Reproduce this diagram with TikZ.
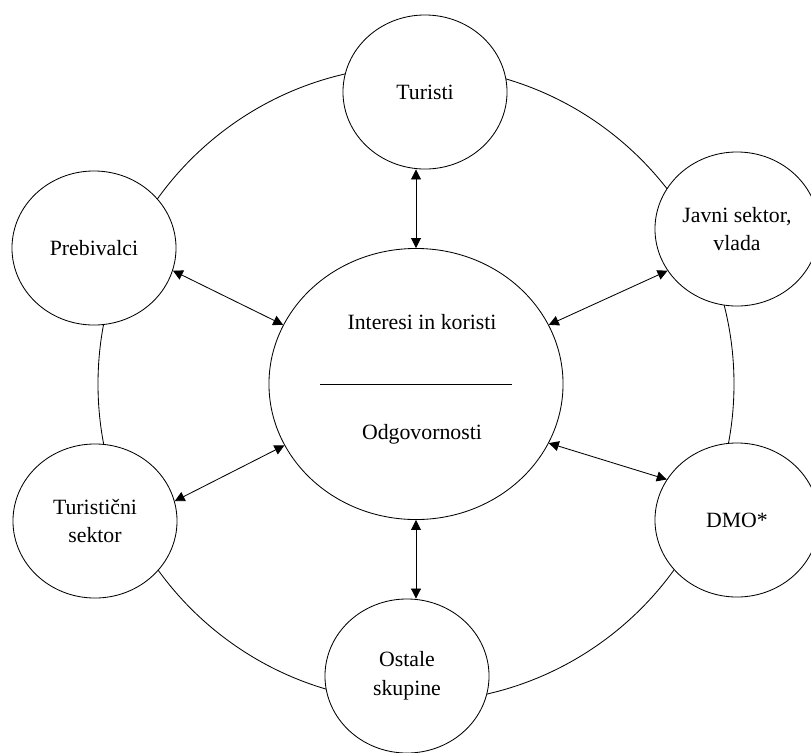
\documentclass[tikz,border=0pt]{standalone}
\usepackage{fontspec}
\setmainfont{Liberation Serif}
\usetikzlibrary{positioning,shapes.geometric,arrows.meta}

\begin{document}
\begin{tikzpicture}[x=0.025cm, y=-0.025cm, line width=0.6pt,
    font=\fontsize{15.5}{20.5}\selectfont, every node/.style={align=center},
    party/.style={draw, ellipse, fill=white, inner sep=0pt, minimum width=4.1cm, minimum height=3.85cm},
    link/.style={{Triangle[length=2.5mm,width=2.5mm]}-{Triangle[length=2.5mm,width=2.5mm]}}]
    \path[use as bounding box] (0,0) rectangle (811,752);

    \node[draw, ellipse, minimum width=7.35cm, minimum height=6.775cm] (core) at (416,384) {};
    \draw (core.center) circle[radius=318];

    \node[party] (tourists) at (425,92) {Turisti};
    \node[party] (residents) at (94,248) {Prebivalci};
    \node[party] (government) at (737,229) {Javni sektor,\\vlada};
    \node[party] (industry) at (95,521) {Turistični\\sektor};
    \node[party] (dmo) at (737,520) {DMO*};
    \node[party] (others) at (407,676) {Ostale\\skupine};

    \node (benefits) at (422,322) {Interesi in koristi};
    \draw ([xshift=-2.4cm]core.center) -- ([xshift=2.4cm]core.center);
    \node (duties) at (422,434) {Odgovornosti};

    \draw[link] (core.north |- tourists.south) -- (core.north);
    \draw[link] (residents.-16) -- (core.156);
    \draw[link] (core.24) -- (government.211);
    \draw[link] (industry.14) -- (core.205);
    \draw[link] (core.-24) -- (dmo.150);
    \draw[link] (core.south) -- (core.south |- others.north);
\end{tikzpicture}
\end{document}
